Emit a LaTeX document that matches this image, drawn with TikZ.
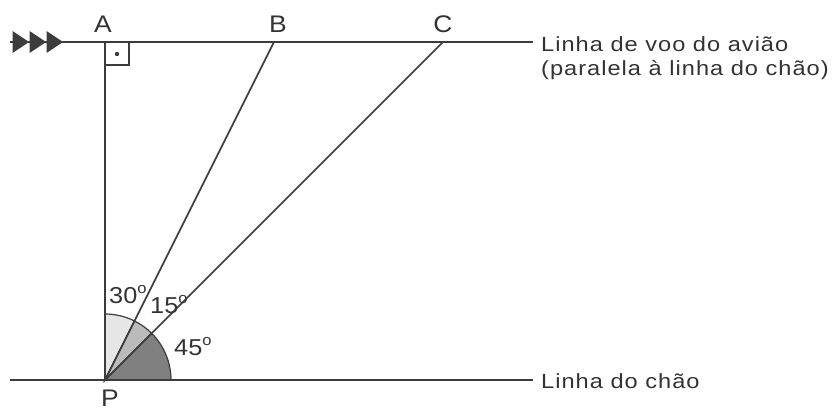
\documentclass[tikz,border=0pt]{standalone}
\usepackage{fontspec}
\setmainfont{Liberation Sans}[FakeStretch=1.1]
\newfontfamily\spacedfont{Liberation Sans}[FakeStretch=1.15,LetterSpace=5]
\newcommand{\degsym}{\raisebox{0.42em}{\fontsize{15}{15}\selectfont o}}
\definecolor{ln}{HTML}{3C3C3C}
\definecolor{txt}{HTML}{333333}
\definecolor{lite}{HTML}{E6E6E6}
\definecolor{midg}{HTML}{BBBBBB}
\definecolor{darkg}{HTML}{808080}
\tikzset{
  geo/.style={draw=ln, line width=1.6pt},
  sect/.style={draw=ln, line width=1.2pt},
  ptlab/.style={inner sep=0pt, text=txt, font=\fontsize{24}{28}\selectfont},
  anglab/.style={inner sep=0pt, text=txt, anchor=base west, font=\fontsize{23}{27}\selectfont},
  sidelab/.style={inner sep=0pt, text=txt, anchor=base west, font=\spacedfont\fontsize{20.5}{23}\selectfont},
  tri/.style={fill=ln}
}
\begin{document}
\begin{tikzpicture}[x=1pt,y=-1pt]
\useasboundingbox (0,0) rectangle (837,412);
% key points
\coordinate (P) at (105,380);
\coordinate (A) at (105,42);
\coordinate (B) at (274,42);
\coordinate (C) at (443,42);
\coordinate (T0) at (10,42);
\coordinate (T1) at (533,42);
\coordinate (G0) at (10,380);
\coordinate (G1) at (533,380);
% sectors
\filldraw[sect, fill=lite] (P) -- ++(-90:66) arc (-90:-63.43:66) -- cycle;
\filldraw[sect, fill=midg] (P) -- ++(-63.43:66) arc (-63.43:-45:66) -- cycle;
\filldraw[sect, fill=darkg] (P) -- ++(-45:66) arc (-45:0:66) -- cycle;
% lines
\draw[geo] (T0) -- (T1);
\draw[geo] (G0) -- (G1);
\draw[geo] (A) -- (P);
\draw[geo] (P) -- (B);
\draw[geo] (P) -- (C);
% right angle mark
\draw[ln, line width=1.3pt] (105,65) -- (129,65) -- (129,42);
\fill[ln] (117,54) circle (2.2);
% flight arrows
\fill[tri] (12.5,31) -- (29,42) -- (12.5,53) -- cycle;
\fill[tri] (29.5,31) -- (46,42) -- (29.5,53) -- cycle;
\fill[tri] (46.5,31) -- (63,42) -- (46.5,53) -- cycle;
% point labels
\node[ptlab, anchor=base] (lA) at (103,33) {A};
\node[ptlab, anchor=base] (lB) at (278,33) {B};
\node[ptlab, anchor=base] (lC) at (443,33) {C};
\node[ptlab, anchor=base] (lP) at (110,406) {P};
% angle labels
\node[anglab] (a30) at (109,303) {30\degsym};
\node[anglab] (a15) at (150,313) {15\degsym};
\node[anglab] (a45) at (174,355) {45\degsym};
% side labels
\node[sidelab] (voo1) at (541,52) {Linha de voo do avião};
\node[sidelab] (voo2) at (541,75) {(paralela à linha do chão)};
\node[sidelab] (chao) at (541,388) {Linha do chão};
\end{tikzpicture}
\end{document}
